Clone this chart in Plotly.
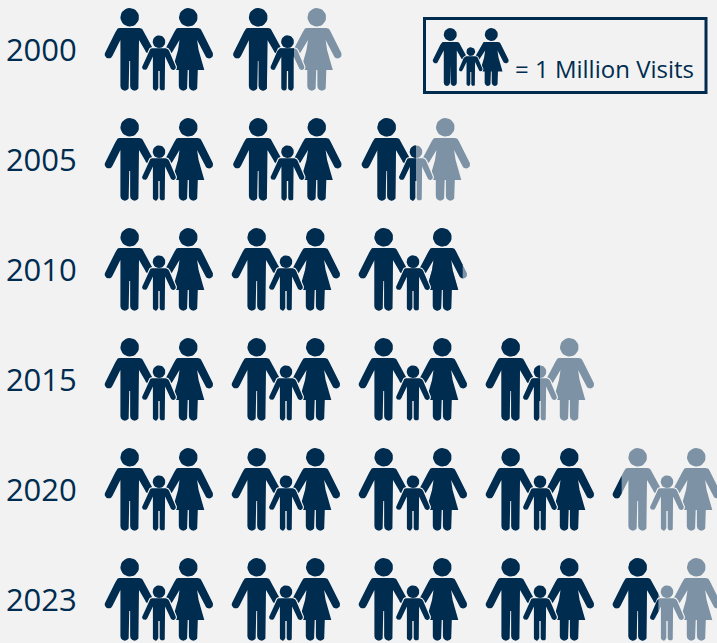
import math
import plotly.graph_objects as go

# ---- data -------------------------------------------------------------
years = ["2000", "2005", "2010", "2015", "2020", "2023"]
visits_millions = [1.56, 2.50, 2.96, 3.50, 4.08, 4.42]
legend_text = "= 1 Million Visits"

# ---- styles ------------------------------------------------------------
DARK = "#002c50"
LIGHT = "#7d92a4"
BG = "#f2f2f2"
FONT = "Open Sans"
PITCH = 127.0          # px per icon on the x axis
ROW_H = 110.0          # px per row on the y axis
ROW_PITCH = [128.5, 128.5, 127, 127, 127, 127]   # icon spacing per row
ICON_W, ICON_H = 108.0, 83.0
X0, Y0 = 105.0, 49.5   # pixel position of x=0 and of the first row
PLOT_L = 85
LABEL_NUDGE = 0.008    # tick labels sit a hair below the row centre


def arc(c, r, a0, a1, n=10):
    return [(c[0] + r * math.cos(a0 + (a1 - a0) * i / n),
             c[1] + r * math.sin(a0 + (a1 - a0) * i / n)) for i in range(n + 1)]


def hand(c, r, frm):
    a = math.atan2(c[1] - frm[1], c[0] - frm[0]) - math.pi / 2
    return arc(c, r, a, a + math.pi)


def circle(cx, cy, r):
    return arc((cx, cy), r, -math.pi / 2, 1.5 * math.pi, 28)[:-1]


def person(cx, top, s_top, s, s_y, hl, hr, hand_r, pit_y, pit, crotch, gap, leg, bottom, dress=None):
    """Outline of a figure in icon-local pixels, clockwise on screen."""
    p = []
    sr = (cx + s, s_y)
    sl = (cx - s, s_y)
    rad = s_y - top
    # top of the shoulders with rounded corners
    p += arc((cx + s_top, top + rad), rad, -math.pi / 2, -0.5, 5)
    p.append(sr)
    p += hand((cx + hr[0], hr[1]), hand_r, sr)
    p.append((cx + pit, pit_y))
    if dress:
        wy, wh, hy, hh = dress
        p += [(cx + wh, wy), (cx + hh, hy), (cx + leg, hy)]
    lr = (leg - gap) / 2
    yb = bottom - lr
    p.append((cx + leg, yb))
    p += arc((cx + gap + lr, yb), lr, 0, math.pi, 6)
    p += [(cx + gap, crotch), (cx - gap, crotch)]
    p += arc((cx - gap - lr, yb), lr, 0, math.pi, 6)
    if dress:
        p += [(cx - leg, hy), (cx - hh, hy), (cx - wh, wy)]
    p.append((cx - pit, pit_y))
    p += hand((cx + hl[0], hl[1]), hand_r, sl)
    p.append(sl)
    p += arc((cx - s_top, top + rad), rad, math.pi + 0.5, 1.5 * math.pi, 5)
    return p


ADULTS = [
    circle(24.7, 9.3, 9.3),
    person(24.7, 20.0, 9.8, 14.2, 24.0, (-21.0, 46.5), (19.3, 41.5), 4.0, 32, 9.3, 53, 0.45, 9.3, 82.7),
    circle(83.3, 9.3, 9.3),
    person(83.3, 20.0, 9.6, 14.0, 24.0, (-18.8, 41.5), (20.8, 46.5), 4.0, 32, 8.8, 62, 0.6, 9.5, 82.7,
           dress=(42, 10.3, 62, 16.0)),
]
CHILD = [
    circle(54.0, 33.7, 6.3),
    person(54.0, 40.2, 6.8, 10.2, 42.9, (-14.2, 59.3), (14.2, 59.3), 2.7, 48.6, 6.1, 63, 0.7, 6.1, 82.7),
]


def to_x(px):
    return (px - X0) / PITCH


def to_y(py):
    return (py - Y0) / ROW_H


def place(poly, ox, oy, k=1.0):
    return [(to_x(ox + k * x), to_y(oy + k * y)) for x, y in poly]


def clip(poly, xmax):
    out = []
    for i, a in enumerate(poly):
        b = poly[(i + 1) % len(poly)]
        ain, bin_ = a[0] <= xmax, b[0] <= xmax
        if ain:
            out.append(a)
        if ain != bin_:
            t = (xmax - a[0]) / (b[0] - a[0])
            out.append((xmax, a[1] + t * (b[1] - a[1])))
    return out


buckets = {k: ([], []) for k in ("light_a", "dark_a", "halo", "light_c", "dark_c", "leg_halo", "leg_a", "leg_c")}


def add(key, poly):
    if not poly:
        return
    xs, ys = buckets[key]
    pts = poly + [poly[0]]
    xs += [p[0] for p in pts] + [None]
    ys += [p[1] for p in pts] + [None]


for row, (value, pitch) in enumerate(zip(visits_millions, ROW_PITCH)):
    top = Y0 + row * ROW_H - ICON_H / 2
    for i in range(math.ceil(value)):
        ox = X0 + i * pitch
        frac = min(1.0, value - i)
        cut = to_x(ox + frac * ICON_W + 0.01)
        for parts, lk, dk in ((ADULTS, "light_a", "dark_a"), (CHILD, "light_c", "dark_c")):
            for part in parts:
                poly = place(part, ox, top)
                if frac < 1:
                    add(lk, poly)
                    add(dk, clip(poly, cut))
                else:
                    add(dk, poly)
        for part in CHILD:
            add("halo", place(part, ox, top))

# legend icon
LEG_X, LEG_Y, LEG_K = 433.0, 28.0, 0.70
for part in ADULTS:
    add("leg_a", place(part, LEG_X, LEG_Y, LEG_K))
for part in CHILD:
    add("leg_halo", place(part, LEG_X, LEG_Y, LEG_K))
    add("leg_c", place(part, LEG_X, LEG_Y, LEG_K))


def fill_trace(key, color):
    xs, ys = buckets[key]
    return go.Scatter(x=xs, y=ys, mode="lines", fill="toself", fillcolor=color,
                      line=dict(width=0, color=color), hoverinfo="skip", showlegend=False)


def halo_trace(key, w):
    xs, ys = buckets[key]
    return go.Scatter(x=xs, y=ys, mode="lines", line=dict(width=w, color=BG),
                      hoverinfo="skip", showlegend=False)


fig = go.Figure([
    fill_trace("light_a", LIGHT),
    fill_trace("dark_a", DARK),
    halo_trace("halo", 2.2),
    fill_trace("light_c", LIGHT),
    fill_trace("dark_c", DARK),
    fill_trace("leg_a", DARK),
    halo_trace("leg_halo", 1.6),
    fill_trace("leg_c", DARK),
])

fig.update_layout(
    width=717, height=643,
    margin=dict(l=PLOT_L, r=0, t=0, b=0, pad=0),
    paper_bgcolor=BG, plot_bgcolor=BG,
    font=dict(family=FONT, color=DARK),
    showlegend=False,
    xaxis=dict(range=[to_x(PLOT_L), to_x(717)], visible=False, fixedrange=True),
    yaxis=dict(range=[to_y(643), to_y(0)],
               tickmode="array", tickvals=[i + LABEL_NUDGE for i in range(len(years))], ticktext=years,
               tickfont=dict(family=FONT, size=31, color=DARK),
               showgrid=False, zeroline=False, showline=False,
               ticks="outside", ticklen=1, tickcolor=BG, fixedrange=True),
    shapes=[dict(type="rect", xref="x", yref="y", layer="below",
                 x0=to_x(424.5), x1=to_x(706), y0=to_y(18.5), y1=to_y(92.5),
                 line=dict(color=DARK, width=3), fillcolor="rgba(0,0,0,0)")],
    annotations=[dict(text=legend_text, xref="x", yref="y", x=to_x(513), y=to_y(68),
                      xanchor="left", yanchor="middle", showarrow=False,
                      font=dict(family=FONT, size=24, color=DARK))],
)

fig.write_html("out.html", config={"displayModeBar": False},
               post_script="document.body.style.margin='0';document.body.style.overflow='hidden';")
